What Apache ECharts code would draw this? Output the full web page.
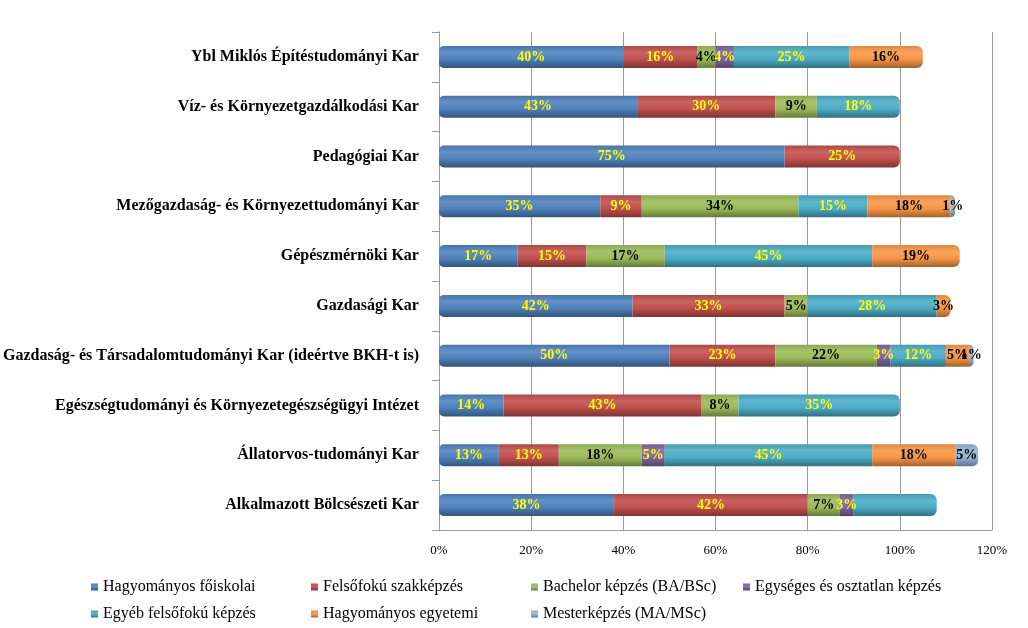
<!DOCTYPE html>
<html>
<head>
<meta charset="utf-8">
<script src="https://cdn.jsdelivr.net/npm/echarts@6/dist/echarts.min.js"></script>
<style>html,body{margin:0;padding:0;background:#fff}#c{width:1028px;height:628px}</style>
</head>
<body>
<div id="c"></div>
<script>
var categories = [
  'Ybl Miklós Építéstudományi Kar',
  'Víz- és Környezetgazdálkodási Kar',
  'Pedagógiai Kar',
  'Mezőgazdaság- és Környezettudományi Kar',
  'Gépészmérnöki Kar',
  'Gazdasági Kar',
  'Gazdaság- és Társadalomtudományi Kar (ideértve BKH-t is)',
  'Egészségtudományi és Környezetegészségügyi Intézet',
  'Állatorvos-tudományi Kar',
  'Alkalmazott Bölcsészeti Kar'
];
var seriesNames = [
  'Hagyományos főiskolai',
  'Felsőfokú szakképzés',
  'Bachelor képzés (BA/BSc)',
  'Egységes és osztatlan képzés',
  'Egyéb felsőfokú képzés',
  'Hagyományos egyetemi',
  'Mesterképzés (MA/MSc)'
];
// values in %, one per category (top to bottom)
var hagyFoisk  = [40, 43, 75, 35, 17, 42, 50, 14, 13, 38];
var felsoSzak  = [16, 30, 25, 9, 15, 33, 23, 43, 13, 42];
var bachelor   = [4, 9, null, 34, 17, 5, 22, 8, 18, 7];
var egyseges   = [4, null, null, null, null, null, 3, null, 5, 3];
var egyebFelso = [25, 18, null, 15, 45, 28, 12, 35, 45, 18];
var hagyEgyet  = [16, null, null, 18, 19, 3, 5, null, 18, null];
var mester     = [null, null, null, 1, null, null, 1, null, 5, null];
var seriesValues = [hagyFoisk, felsoSzak, bachelor, egyseges, egyebFelso, hagyEgyet, mester];
// points whose value label is not shown in the original
var hiddenLabels = [[4, 9]];
var xTicks = [0, 20, 40, 60, 80, 100, 120];

var colors = ['#4F81BD', '#C0504D', '#9BBB59', '#8064A2', '#4BACC6', '#F79646', '#95B3D7'];
var labelColors = ['#FFFF00', '#FFFF00', '#000000', '#FFFF00', '#FFFF00', '#000000', '#000000'];

function shade(hex, f) {
  var n = parseInt(hex.slice(1), 16);
  var r = (n >> 16) & 255, g = (n >> 8) & 255, b = n & 255;
  function c(v) { return Math.max(0, Math.min(255, Math.round(f > 0 ? v + (255 - v) * f : v * (1 + f)))); }
  return 'rgb(' + c(r) + ',' + c(g) + ',' + c(b) + ')';
}
function grad(hex) {
  return new echarts.graphic.LinearGradient(0, 0, 0, 1, [
    { offset: 0, color: shade(hex, -0.1) },
    { offset: 0.3, color: shade(hex, 0.12) },
    { offset: 0.6, color: hex },
    { offset: 1, color: shade(hex, -0.35) }
  ]);
}
// last non-null segment in each row gets a rounded end
var lastIdx = categories.map(function (_, ci) {
  var li = -1;
  seriesValues.forEach(function (arr, si) { if (arr[ci] != null) li = si; });
  return li;
});

var series = seriesNames.map(function (name, si) {
  return {
    name: name,
    type: 'bar',
    stack: 'total',
    barWidth: 22,
    itemStyle: { color: grad(colors[si]) },
    label: {
      show: true,
      position: 'inside',
      formatter: function (p) { return p.value == null ? '' : p.value + '%'; },
      color: labelColors[si],
      fontFamily: 'Liberation Serif',
      fontWeight: 'bold',
      fontSize: 14
    },
    data: seriesValues[si].map(function (v, ci) {
      var d = { value: v };
      var r = [0, 0, 0, 0];
      if (si === 0) { r[0] = 5; r[3] = 5; }
      if (lastIdx[ci] === si) { r[1] = 6; r[2] = 6; }
      d.itemStyle = { borderRadius: r };
      hiddenLabels.forEach(function (h) {
        if (h[0] === si && h[1] === ci) d.label = { show: false };
      });
      return d;
    })
  };
});

var legendPos = [[86, 574], [306, 574], [526, 574], [738, 574], [86, 601], [306, 601], [526, 601]];
var legends = seriesNames.map(function (n, i) {
  return {
    data: [n],
    left: legendPos[i][0],
    top: legendPos[i][1],
    icon: 'rect',
    itemWidth: 7,
    itemHeight: 7,
    itemGap: 4,
    textStyle: { fontFamily: 'Liberation Serif', fontSize: 16, color: '#000' }
  };
});

var chart = echarts.init(document.getElementById('c'));
chart.setOption({
  animation: false,
  backgroundColor: '#fff',
  color: colors,
  legend: legends,
  grid: { left: 436, right: 36, top: 32, bottom: 98, containLabel: false },
  xAxis: {
    type: 'value',
    min: xTicks[0],
    max: xTicks[xTicks.length - 1],
    interval: 20,
    axisLabel: {
      formatter: '{value}%',
      fontFamily: 'Liberation Serif',
      fontSize: 13,
      color: '#000',
      margin: 14
    },
    axisLine: { show: true, lineStyle: { color: '#999999' } },
    axisTick: { show: false },
    splitLine: { show: true, lineStyle: { color: '#999999', width: 1 } }
  },
  yAxis: {
    type: 'category',
    inverse: true,
    data: categories,
    offset: 4,
    axisLine: { show: true, lineStyle: { color: '#999999' } },
    axisTick: { show: true, length: 7, lineStyle: { color: '#999999' } },
    axisLabel: {
      fontFamily: 'Liberation Serif',
      fontWeight: 'bold',
      fontSize: 16,
      color: '#000',
      margin: 16
    }
  },
  series: series
});
</script>
</body>
</html>
